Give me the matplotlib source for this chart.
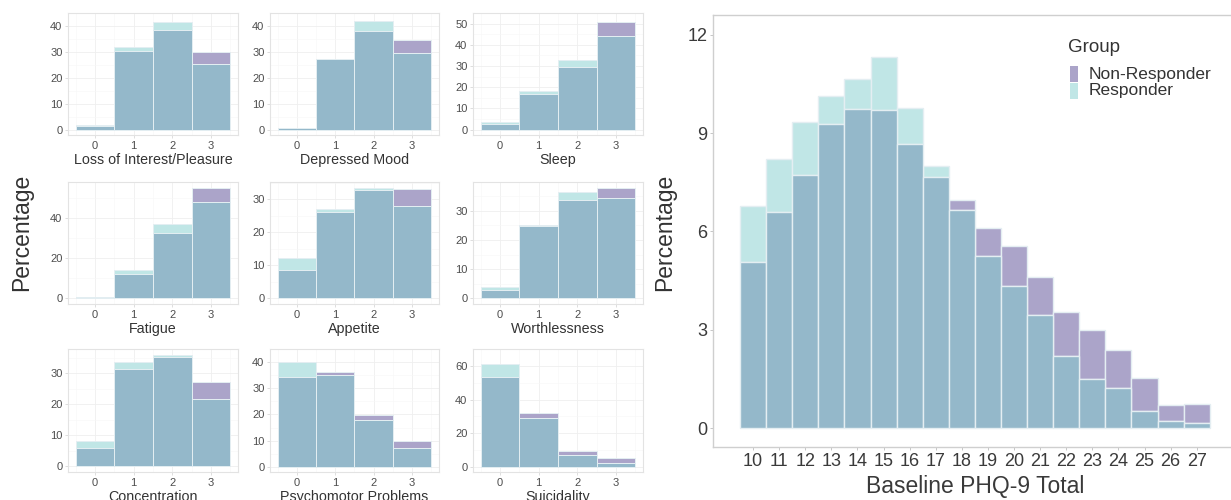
import numpy as np
import matplotlib
matplotlib.use("Agg")
import matplotlib.pyplot as plt
from matplotlib.patches import Rectangle

plt.rcParams['font.family'] = ['Liberation Sans', 'DejaVu Sans']

# ---- item-level distributions (percent of each group scoring 0-3) ----
scores = [0, 1, 2, 3]
items = ["Loss of Interest/Pleasure", "Depressed Mood", "Sleep",
         "Fatigue", "Appetite", "Worthlessness",
         "Concentration", "Psychomotor Problems", "Suicidality"]
responder = [
    [1.6, 32.0, 41.4, 25.2],
    [0.7, 27.4, 42.0, 29.7],
    [3.8, 18.3, 33.0, 44.3],
    [0.8, 14.3, 37.2, 48.2],
    [12.1, 27.0, 33.5, 28.0],
    [3.8, 24.8, 36.5, 34.5],
    [8.1, 33.7, 36.1, 21.8],
    [40.0, 35.2, 17.8, 7.2],
    [61.2, 29.3, 7.1, 2.4],
]
non_responder = [
    [1.5, 30.2, 38.3, 29.8],
    [0.7, 27.2, 37.9, 34.6],
    [2.6, 16.7, 29.4, 50.9],
    [0.8, 12.0, 32.8, 55.2],
    [8.7, 26.0, 32.7, 33.2],
    [2.8, 25.1, 33.9, 38.0],
    [6.1, 31.5, 35.2, 27.2],
    [34.4, 36.1, 19.9, 9.8],
    [53.4, 31.8, 9.5, 5.1],
]
item_yticks = [
    [0, 10, 20, 30, 40], [0, 10, 20, 30, 40], [0, 10, 20, 30, 40, 50],
    [0, 20, 40], [0, 10, 20, 30], [0, 10, 20, 30],
    [0, 10, 20, 30], [0, 10, 20, 30, 40], [0, 20, 40, 60],
]

# ---- baseline total score distribution ----
totals = list(range(10, 28))
total_responder = [6.78, 8.21, 9.35, 10.12, 10.65, 11.33, 9.76, 8.00, 6.64,
                   5.24, 4.33, 3.44, 2.19, 1.49, 1.23, 0.54, 0.23, 0.17]
total_non_responder = [5.06, 6.60, 7.71, 9.27, 9.74, 9.71, 8.67, 7.67, 6.96,
                       6.12, 5.57, 4.62, 3.54, 3.01, 2.40, 1.54, 0.70, 0.75]
total_yticks = [0, 3, 6, 9, 12]

C_NR = "#aba4c9"
C_R = "#c0e6e6"
C_BOTH = "#94b8ca"
EDGE = "#e4eef2"
TXT = "#4d4d4d"

W, H = 1231, 500
fig = plt.figure(figsize=(W / 100, H / 100), dpi=100)


def px_axes(x0, y0, x1, y1):
    return fig.add_axes([x0 / W, 1 - y1 / H, (x1 - x0) / W, (y1 - y0) / H])


def overlaid_bars(ax, x, r, nr, lw):
    r = np.asarray(r, float)
    nr = np.asarray(nr, float)
    low = np.minimum(r, nr)
    high = np.maximum(r, nr)
    top_col = [C_R if a > b else C_NR for a, b in zip(r, nr)]
    ax.bar(x, high - low, bottom=low, width=1.0, color=top_col,
           edgecolor=EDGE, linewidth=lw, zorder=2)
    ax.bar(x, low, width=1.0, color=C_BOTH, edgecolor=EDGE,
           linewidth=lw, zorder=3)


cols = [(68, 238), (270, 439), (473, 643)]
rows = [(13, 135), (182, 304), (349, 472)]

for i, name in enumerate(items):
    rr, cc = divmod(i, 3)
    x0, x1 = cols[cc]
    y0, y1 = rows[rr]
    ax = px_axes(x0, y0, x1, y1)
    overlaid_bars(ax, scores, responder[i], non_responder[i], 0.7)
    top = max(max(responder[i]), max(non_responder[i]))
    ax.set_xlim(-0.7, 3.7)
    ax.set_ylim(-0.05 * top, 1.05 * top)
    ax.set_xticks(scores)
    yt = item_yticks[i]
    step = yt[1] - yt[0]
    ax.set_yticks(yt)
    ax.set_xticks([-0.5, 0.5, 1.5, 2.5, 3.5], minor=True)
    ax.set_yticks([v + step / 2 for v in yt], minor=True)
    ax.grid(True, which="major", color="#efefef", linewidth=0.6, zorder=0)
    ax.grid(True, which="minor", color="#f7f7f7", linewidth=0.4, zorder=0)
    ax.set_axisbelow(True)
    for s in ax.spines.values():
        s.set_color("#e3e3e3")
        s.set_linewidth(0.8)
    ax.tick_params(which="major", length=2, width=0.5, color="#d0d0d0",
                   labelsize=8, labelcolor=TXT, pad=2)
    ax.tick_params(which="minor", length=0)
    ax.set_xlabel(name, fontsize=10.3, color="#333333", labelpad=2)

fig.text(22 / W, 1 - 232 / H, "Percentage", rotation=90, ha="center",
         va="center", fontsize=16.5, color="#333333")

# ---- large panel ----
BX0, BX1 = 713, 1238
big = px_axes(BX0, 15, BX1, 447)
overlaid_bars(big, totals, total_responder, total_non_responder, 1.0)
pxu = 26.1
left = 9.5 - (740 - BX0) / pxu
big.set_xlim(left, left + (BX1 - BX0) / pxu)
big.set_ylim(-0.57, 12.6)
big.set_xticks(totals)
big.set_yticks(total_yticks)
for s in big.spines.values():
    s.set_color("#cfcfcf")
    s.set_linewidth(1.0)
big.tick_params(length=2, width=0.6, color="#bdbdbd", labelsize=13,
                labelcolor="#3a3a3a", pad=2)
big.set_xlabel("Baseline PHQ-9 Total", fontsize=16.5, color="#3a3a3a", labelpad=4)
fig.text(665 / W, 1 - 232 / H, "Percentage", rotation=90, ha="center",
         va="center", fontsize=16.5, color="#333333")

# legend
fig.text(1068 / W, 1 - 48 / H, "Group", ha="left", va="center",
         fontsize=13.5, color="#333333")
for lab, col, yc in [("Non-Responder", C_NR, 74), ("Responder", C_R, 91)]:
    fig.patches.append(Rectangle((1070 / W, 1 - (yc + 8) / H), 8 / W, 16 / H,
                                 transform=fig.transFigure, facecolor=col,
                                 edgecolor="none"))
    fig.text(1089 / W, 1 - yc / H, lab, ha="left", va="center",
             fontsize=12.5, color="#333333")

fig.savefig("out.png", dpi=100)
